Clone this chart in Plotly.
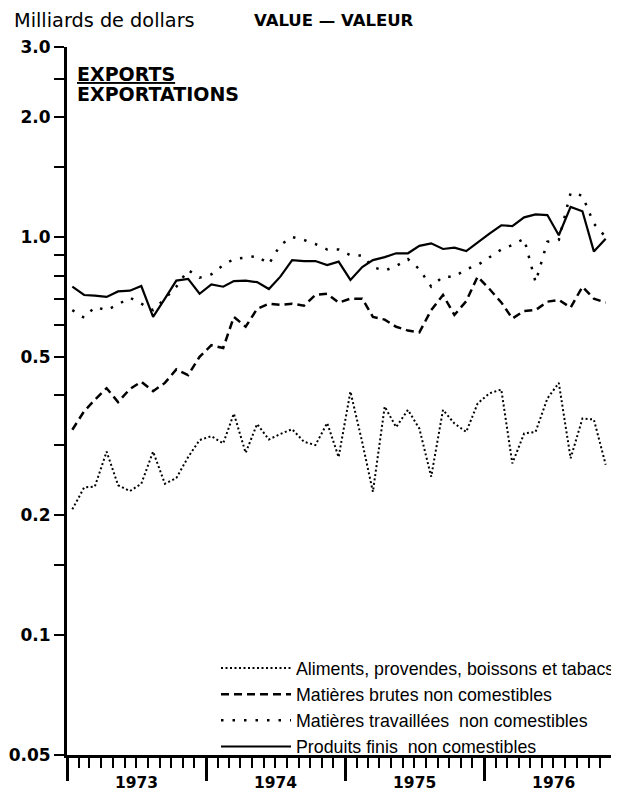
import plotly.graph_objects as go

# Monthly data, Jan 1973 - Nov 1976 (billions of dollars)
months = [f"{1973 + i // 12}-{i % 12 + 1:02d}-15" for i in range(47)]

aliments = [0.207, 0.235, 0.236, 0.289, 0.238, 0.230, 0.240, 0.289, 0.240, 0.248,
            0.280, 0.309, 0.316, 0.303, 0.360, 0.287, 0.339, 0.310, 0.320, 0.329,
            0.306, 0.300, 0.341, 0.280, 0.409, 0.305, 0.229, 0.375, 0.333, 0.368,
            0.330, 0.250, 0.368, 0.340, 0.324, 0.382, 0.405, 0.414, 0.270, 0.321,
            0.324, 0.393, 0.430, 0.278, 0.350, 0.348, 0.268]

brutes = [0.328, 0.365, 0.390, 0.417, 0.385, 0.415, 0.433, 0.410, 0.430, 0.465,
          0.450, 0.500, 0.535, 0.526, 0.630, 0.595, 0.660, 0.680, 0.675, 0.680,
          0.672, 0.715, 0.720, 0.684, 0.700, 0.700, 0.630, 0.620, 0.595, 0.582,
          0.576, 0.655, 0.715, 0.637, 0.690, 0.795, 0.740, 0.685, 0.624, 0.652,
          0.655, 0.688, 0.695, 0.665, 0.750, 0.700, 0.684]

travaillees = [0.655, 0.627, 0.667, 0.655, 0.677, 0.704, 0.680, 0.655, 0.700, 0.750,
               0.826, 0.790, 0.806, 0.850, 0.880, 0.889, 0.896, 0.855, 0.955, 1.000,
               0.983, 0.960, 0.930, 0.930, 0.900, 0.898, 0.840, 0.823, 0.845, 0.880,
               0.830, 0.750, 0.795, 0.795, 0.830, 0.850, 0.890, 0.930, 0.955, 0.990,
               0.770, 0.973, 0.983, 1.290, 1.270, 1.080, 1.000]

finis = [0.750, 0.715, 0.712, 0.707, 0.730, 0.733, 0.753, 0.630, 0.700, 0.777,
         0.785, 0.720, 0.760, 0.750, 0.775, 0.777, 0.770, 0.740, 0.795, 0.875,
         0.870, 0.870, 0.850, 0.867, 0.780, 0.840, 0.875, 0.890, 0.910, 0.910,
         0.950, 0.964, 0.933, 0.940, 0.922, 0.970, 1.020, 1.070, 1.065, 1.120,
         1.140, 1.135, 1.010, 1.190, 1.160, 0.920, 0.990]

names = ["Aliments, provendes, boissons et tabacs",
         "Matières brutes non comestibles",
         "Matières travaillées  non comestibles",
         "Produits finis  non comestibles"]

y_tickvals = [0.05, 0.1, 0.2, 0.5, 1.0, 2.0, 3.0]
y_ticktext = ["0.05", "0.1", "0.2", "0.5", "1.0", "2.0", "3.0"]
y_minorvals = [0.15, 0.3, 0.4, 0.6, 0.7, 0.8, 0.9, 1.5, 2.5]

# page body has an 8px margin; figure sized to fill the rest of the window
OFF = 8
W, H = 619 - OFF, 792 - OFF
L, T = 67 - OFF, 47 - OFF
R, B = 0, H - (755 - OFF)
PW, PH = W - L - R, H - T - B


def px(x):  # screen pixel -> paper
    return (x - OFF - L) / PW


def py(y):  # screen pixel -> paper
    return (H - B - (y - OFF)) / PH


fig = go.Figure()
styles = [
    (aliments, dict(color="black", width=2, dash="2px,2.5px")),
    (brutes, dict(color="black", width=2.5, dash="8px,5px")),
    (travaillees, dict(color="black", width=2.5, dash="2.5px,9px")),
    (finis, dict(color="black", width=2.2)),
]
for (vals, line), name in zip(styles, names):
    fig.add_trace(go.Scatter(x=months, y=vals, mode="lines", name=name,
                             line=line, cliponaxis=False))

font_reg = dict(family="Liberation Sans", color="black")
font_bold = dict(family="DejaVu Sans", color="black", weight="bold")

fig.update_layout(
    width=W, height=H,
    margin=dict(l=L, r=R, t=T, b=B, pad=0, autoexpand=False),
    paper_bgcolor="white", plot_bgcolor="white",
    showlegend=True,
    legend=dict(x=px(216), y=py(650), xanchor="left", yanchor="top",
                bgcolor="rgba(0,0,0,0)", borderwidth=0,
                font=dict(size=17.8, **font_reg), itemwidth=70,
                tracegroupgap=0),
    xaxis=dict(
        type="date",
        range=["1973-01-01", "1976-12-20"],
        showgrid=False, zeroline=False,
        showline=True, linecolor="black", linewidth=3,
        ticks="outside", tickcolor="black", ticklen=23, tickwidth=3,
        tick0="1973-01-01", dtick="M12", tickformat="%Y",
        ticklabelmode="period", ticklabelstandoff=-12,
        tickfont=dict(size=15.5, **font_bold),
        minor=dict(ticks="outside", dtick="M1", tick0="1973-01-01",
                   ticklen=10, tickwidth=2, tickcolor="black", showgrid=False),
    ),
    yaxis=dict(
        type="log",
        range=[-1.30103, 0.4771213],
        showgrid=False, zeroline=False,
        showline=True, linecolor="black", linewidth=3,
        ticks="outside", tickcolor="black", ticklen=10, tickwidth=2,
        tickmode="array", tickvals=y_tickvals, ticktext=y_ticktext,
        tickfont=dict(size=17, **font_bold),
        minor=dict(ticks="outside", tickmode="array", tickvals=y_minorvals,
                   ticklen=10, tickwidth=2, tickcolor="black", showgrid=False),
    ),
)

ann = [
    dict(text="Milliards de dollars", x=px(12), y=py(21), xanchor="left",
         yanchor="middle", font=dict(size=19.3, family="DejaVu Sans", color="black")),
    dict(text="VALUE — VALEUR", x=px(252), y=py(21), xanchor="left",
         yanchor="middle", font=dict(size=16.5, **font_bold)),
    dict(text="EXPORTS", x=px(75), y=py(74), xanchor="left",
         yanchor="middle", font=dict(size=19, lineposition="under", **font_bold)),
    dict(text="EXPORTATIONS", x=px(75), y=py(94), xanchor="left",
         yanchor="middle", font=dict(size=19, **font_bold)),
]
for a in ann:
    fig.add_annotation(xref="paper", yref="paper", showarrow=False, **a)

fig.write_html("out.html")
